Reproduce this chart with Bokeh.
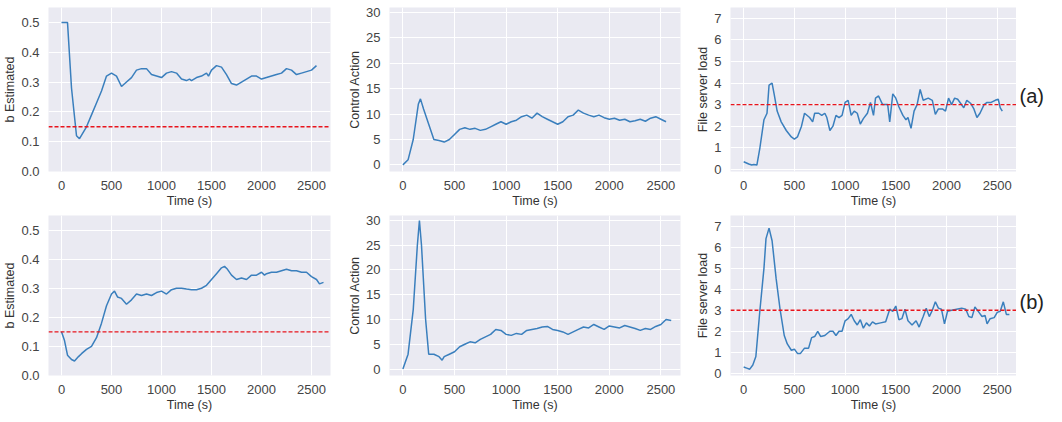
from bokeh.plotting import figure
from bokeh.layouts import gridplot
from bokeh.models import Range1d, FixedTicker, Label, Span, NumeralTickFormatter
from bokeh.embed import file_html
from bokeh.resources import INLINE

# ---- data ----
ba_t = [0,50,60,100,150,180,250,300,350,400,450,500,550,600,650,700,750,800,850,900,950,1000,1050,1100,1150,1200,1250,1280,1300,1350,1400,1450,1470,1500,1550,1600,1650,1700,1750,1800,1850,1900,1950,2000,2050,2100,2150,2200,2250,2300,2350,2400,2450,2500,2550]
ba_v = [0.5,0.5,0.5,0.28,0.12,0.11,0.15,0.19,0.23,0.27,0.32,0.33,0.32,0.285,0.3,0.315,0.34,0.345,0.345,0.325,0.32,0.315,0.33,0.335,0.33,0.31,0.305,0.31,0.305,0.315,0.32,0.33,0.32,0.34,0.355,0.35,0.325,0.295,0.29,0.3,0.31,0.32,0.32,0.31,0.315,0.32,0.325,0.33,0.345,0.34,0.325,0.33,0.335,0.34,0.355]

ca_t = [0,50,100,150,170,200,250,300,350,400,450,500,550,600,650,700,750,800,850,900,950,1000,1050,1100,1150,1200,1250,1300,1350,1400,1450,1500,1550,1600,1650,1700,1750,1800,1850,1900,1950,2000,2050,2100,2150,2200,2250,2300,2350,2400,2450,2500,2550]
ca_v = [0,1,5,12,13,11,8,5,4.8,4.5,5,6,7,7.3,7,7.2,6.8,7,7.5,8,8.5,8,8.5,8.8,9.5,9.8,9.2,10.2,9.5,9,8.5,8,8.5,9.5,9.8,10.8,10.2,9.8,9.5,9.8,9.3,9,9.2,8.8,9,8.5,8.7,9,8.6,9.2,9.5,9,8.5]

la_t = [0,50,80,100,130,160,200,230,250,280,300,330,370,420,470,500,530,570,600,650,680,700,740,770,800,820,850,880,910,940,970,1000,1030,1060,1090,1120,1150,1180,1220,1250,1280,1300,1330,1370,1420,1440,1470,1500,1530,1570,1600,1620,1650,1680,1710,1740,1770,1820,1860,1890,1920,1960,1990,2020,2050,2080,2110,2140,2170,2200,2240,2270,2300,2330,2370,2400,2440,2480,2510,2530,2550]
la_v = [0.35,0.25,0.2,0.22,0.2,1,2.3,2.6,3.9,4,3.5,2.7,2.2,1.8,1.5,1.4,1.5,2,2.6,2.4,2.2,2.6,2.6,2.5,2.6,2.4,1.8,2.0,2.5,2.4,2.5,3.1,3.2,2.5,2.7,2.6,2.1,2.35,2.6,3.1,2.5,3.3,3.4,3.0,3.0,2.2,3.5,3.3,2.9,2.5,2.3,2.4,1.9,2.7,3.0,3.7,3.2,3.3,3.2,2.55,2.8,2.8,2.7,3.3,3.0,3.3,3.25,3.05,2.85,3.2,3.05,2.8,2.4,2.6,3.0,3.1,3.1,3.2,3.25,2.85,2.7]

bb_t = [0,30,60,100,130,170,200,250,300,350,400,450,500,530,560,600,650,700,750,800,850,900,950,1000,1050,1100,1150,1200,1250,1300,1350,1400,1450,1500,1550,1600,1630,1660,1700,1750,1800,1850,1900,1950,2000,2030,2050,2100,2150,2200,2250,2300,2350,2400,2450,2500,2550,2580,2620]
bb_v = [0.15,0.12,0.07,0.055,0.05,0.065,0.075,0.09,0.1,0.13,0.18,0.24,0.28,0.29,0.27,0.265,0.245,0.26,0.28,0.275,0.28,0.275,0.285,0.29,0.28,0.295,0.3,0.3,0.297,0.295,0.295,0.3,0.31,0.33,0.35,0.37,0.375,0.365,0.345,0.33,0.335,0.33,0.345,0.345,0.355,0.345,0.35,0.355,0.355,0.36,0.365,0.36,0.36,0.355,0.355,0.34,0.33,0.315,0.32]

cb_t = [0,50,100,140,160,180,220,250,300,350,380,400,450,500,550,600,650,700,750,800,850,900,950,1000,1050,1100,1150,1200,1250,1300,1350,1400,1450,1500,1550,1600,1650,1700,1750,1800,1850,1900,1950,2000,2050,2100,2150,2200,2250,2300,2350,2400,2450,2500,2550,2600]
cb_v = [0,3,12,25,30,25,10,3,3,2.5,1.8,2.5,3,3.5,4.5,5,5.5,5.3,6,6.5,7,8,7.8,7,6.8,7.2,7,7.8,8,8.2,8.5,8.6,8,7.8,7.5,7,7.5,8,8.5,8.3,9,8.5,8,8.7,8.5,8.3,8.8,8.5,8.2,7.8,8.2,8,8.6,9,10,9.8]

lb_t = [0,30,60,90,120,160,200,220,250,280,320,360,400,430,470,500,530,560,600,640,670,700,730,760,800,850,880,910,940,970,1000,1030,1060,1090,1120,1150,1180,1210,1240,1270,1300,1350,1400,1440,1470,1500,1530,1560,1590,1620,1660,1700,1730,1770,1800,1830,1860,1890,1920,1950,1980,2010,2050,2100,2150,2190,2220,2250,2280,2320,2350,2380,2400,2430,2470,2500,2530,2560,2590,2620]
lb_v = [0.3,0.25,0.2,0.4,0.8,3,5,6.4,6.9,6.3,4.5,3,1.8,1.4,1.1,1.15,0.95,0.95,1.2,1.2,1.7,1.75,2.0,1.75,1.8,2.0,2.0,1.8,2.0,2.0,2.5,2.6,2.8,2.5,2.3,2.55,2.15,2.4,2.25,2.45,2.35,2.4,2.45,3.05,2.95,3.2,2.55,2.6,3.05,2.5,2.3,2.5,2.2,2.7,3.1,2.7,3.0,3.4,3.1,3.05,2.35,2.95,3.0,3.05,3.1,3.05,2.7,2.65,3.15,2.9,2.7,2.75,2.35,2.6,2.65,2.9,2.95,3.4,2.8,2.8]

row_tags = ["(a)", "(b)"]

BG = "#EAEAF2"
BLUE = "#3a7fbd"
FONT = "Liberation Sans"
YR_B = (0, 0.55)
YR_C = (-1.3, 31)
YR_L = (-0.1, 7.5)

def mk(t, v, yr, yticks, ylabel, ref, width, bl, br, height, bt, bb, yfmt=None):
    p = figure(width=width, height=height, output_backend="svg", toolbar_location=None,
               x_range=Range1d(-130, 2690), y_range=Range1d(*yr),
               min_border_left=bl, min_border_right=br, min_border_top=bt, min_border_bottom=bb)
    p.background_fill_color = BG
    p.border_fill_color = "white"
    p.outline_line_color = None
    p.grid.grid_line_color = "white"
    p.grid.grid_line_width = 1
    for ax in (p.xaxis, p.yaxis):
        ax.axis_line_color = None
        ax.major_tick_line_color = None
        ax.minor_tick_line_color = None
        ax.major_label_text_font = FONT
        ax.major_label_text_font_size = "13px"
        ax.major_label_text_color = "#444444"
        ax.axis_label_text_font = FONT
        ax.axis_label_text_font_size = "12.5px"
        ax.axis_label_text_font_style = "normal"
        ax.axis_label_text_color = "#333333"
        ax.major_label_standoff = 3
        ax.axis_label_standoff = 1
    p.xaxis.ticker = FixedTicker(ticks=[0, 500, 1000, 1500, 2000, 2500])
    p.yaxis.ticker = FixedTicker(ticks=yticks)
    if yfmt:
        p.yaxis.formatter = NumeralTickFormatter(format=yfmt)
    p.xaxis.axis_label = "Time (s)"
    p.yaxis.axis_label = ylabel
    p.line(t, v, line_color=BLUE, line_width=1.5)
    if ref is not None:
        p.add_layout(Span(location=ref, dimension="width", line_color="#e8141c",
                          line_dash="4 2", line_width=1.3))
    return p

def tagfig(tag, yr, height, bt, bb):
    p = figure(width=30, height=height, output_backend="svg", toolbar_location=None,
               x_range=Range1d(0, 1), y_range=Range1d(*yr),
               min_border_left=0, min_border_right=0, min_border_top=bt, min_border_bottom=bb)
    p.axis.visible = False
    p.grid.visible = False
    p.outline_line_color = None
    p.add_layout(Label(x=0.1, y=3.4, text=tag, text_font=FONT, text_font_size="20px",
                       text_color="#222222", text_align="left", text_baseline="middle"))
    return p

bt_ticks = [0, 0.1, 0.2, 0.3, 0.4, 0.5]
ct_ticks = [0, 5, 10, 15, 20, 25, 30]
lt_ticks = [0, 1, 2, 3, 4, 5, 6, 7]

rows = []
for (bt_, bv_, ct_, cv_, lt_, lv_), tag, h, top in zip(
        [(ba_t, ba_v, ca_t, ca_v, la_t, la_v), (bb_t, bb_v, cb_t, cb_v, lb_t, lb_v)],
        row_tags, [210, 204], [7, 5]):
    rows.append([
        mk(bt_, bv_, YR_B, bt_ticks, "b Estimated", 0.15, 345, 42, 15, h, top, 30, "0.0"),
        mk(ct_, cv_, YR_C, ct_ticks, "Control Action", None, 345, 40, 10, h, top, 30),
        mk(lt_, lv_, YR_L, lt_ticks, "File server load", 3, 326, 40, 0, h, top, 30),
        tagfig(tag, YR_L, h, top, 30),
    ])

g = gridplot(rows, toolbar_location=None)
open("out.html", "w").write(file_html(g, INLINE))
